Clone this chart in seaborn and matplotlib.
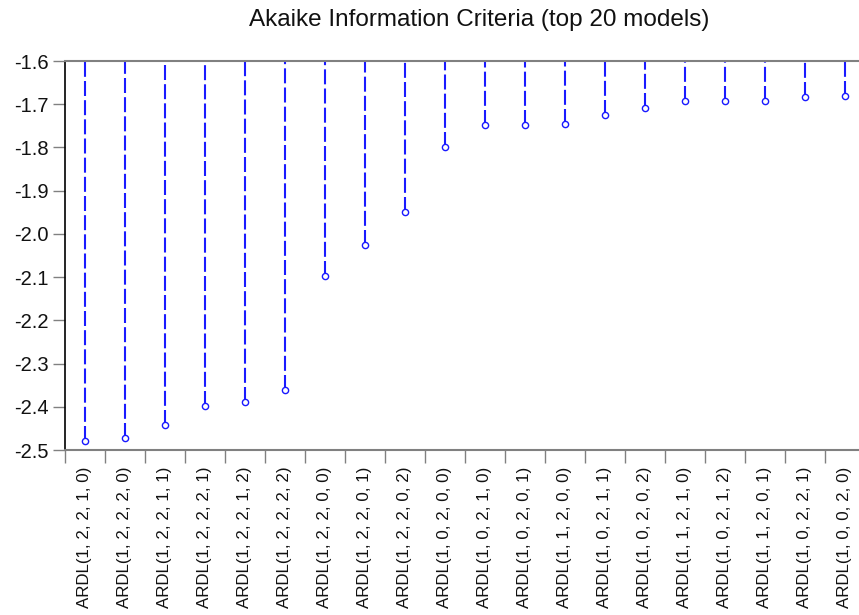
import matplotlib
matplotlib.use("Agg")
import matplotlib.pyplot as plt
from matplotlib.ticker import FixedLocator, NullFormatter, FixedFormatter
import seaborn as sns
import pandas as pd

models = [
    "ARDL(1, 2, 2, 1, 0)", "ARDL(1, 2, 2, 2, 0)", "ARDL(1, 2, 2, 1, 1)",
    "ARDL(1, 2, 2, 2, 1)", "ARDL(1, 2, 2, 1, 2)", "ARDL(1, 2, 2, 2, 2)",
    "ARDL(1, 2, 2, 0, 0)", "ARDL(1, 2, 2, 0, 1)", "ARDL(1, 2, 2, 0, 2)",
    "ARDL(1, 0, 2, 0, 0)", "ARDL(1, 0, 2, 1, 0)", "ARDL(1, 0, 2, 0, 1)",
    "ARDL(1, 1, 2, 0, 0)", "ARDL(1, 0, 2, 1, 1)", "ARDL(1, 0, 2, 0, 2)",
    "ARDL(1, 1, 2, 1, 0)", "ARDL(1, 0, 2, 1, 2)", "ARDL(1, 1, 2, 0, 1)",
    "ARDL(1, 0, 2, 2, 1)", "ARDL(1, 0, 0, 2, 0)",
]
aic = [
    -2.479, -2.472, -2.442, -2.399, -2.389, -2.361,
    -2.098, -2.026, -1.950, -1.799, -1.748, -1.748,
    -1.746, -1.725, -1.709, -1.693, -1.693, -1.693,
    -1.683, -1.680,
]
y_ticks = [-1.6, -1.7, -1.8, -1.9, -2.0, -2.1, -2.2, -2.3, -2.4, -2.5]

df = pd.DataFrame({"pos": range(len(models)), "model": models, "aic": aic})

sns.set_style("white")
plt.rcParams["font.family"] = ["Liberation Sans", "DejaVu Sans"]
plt.rcParams["text.color"] = "black"
plt.rcParams["xtick.labelcolor"] = "black"
plt.rcParams["ytick.labelcolor"] = "black"

fig = plt.figure(figsize=(8.59, 6.15), dpi=100)
ax = fig.add_axes([65 / 859, 1 - 450 / 615, 1 - 65 / 859, (450 - 61) / 615])

top = y_ticks[0]
ax.vlines(df["pos"], df["aic"], top, colors="#1a1aff", linestyles=(0, (7.2, 2.0)),
          linewidth=1.5, zorder=2)
sns.scatterplot(data=df, x="pos", y="aic", ax=ax, marker="o", s=20,
                facecolor="white", edgecolor="#1a1aff", linewidth=1.0, zorder=3)

ax.set_xlim(-0.5, (859 - 65) / 40 - 0.5)
ax.set_ylim(y_ticks[-1], y_ticks[0])

# boundary ticks between categories, labels at category centres
ax.xaxis.set_major_locator(FixedLocator([i - 0.5 for i in range(len(models))]))
ax.xaxis.set_major_formatter(NullFormatter())
ax.xaxis.set_minor_locator(FixedLocator(list(range(len(models)))))
ax.xaxis.set_minor_formatter(FixedFormatter(models))
ax.tick_params(axis="x", which="major", direction="out", length=9, width=1,
               color="#808080", bottom=True)
ax.tick_params(axis="x", which="minor", length=0, labelsize=12.2, pad=12,
               labelrotation=90, bottom=True, labelcolor="#111111")
for lbl in ax.get_xticklabels(minor=True):
    lbl.set_verticalalignment("top")

ax.set_yticks(y_ticks)
ax.set_yticklabels([f"{v:.1f}" for v in y_ticks])
ax.tick_params(axis="y", direction="out", length=9, width=1, color="#808080",
               labelsize=14.5, pad=3, left=True, labelcolor="#111111")

ax.set_xlabel("")
ax.set_ylabel("")

for side in ("top", "bottom"):
    ax.spines[side].set_visible(True)
    ax.spines[side].set_color("#808080")
    ax.spines[side].set_linewidth(1.5)
ax.spines["left"].set_color("black")
ax.spines["left"].set_linewidth(1.2)
ax.spines["right"].set_visible(False)

fig.text(0.558, 1 - 20 / 615, "Akaike Information Criteria (top 20 models)",
         ha="center", va="center", fontsize=17.5, color="#111111")

fig.savefig("out.png", dpi=100)
